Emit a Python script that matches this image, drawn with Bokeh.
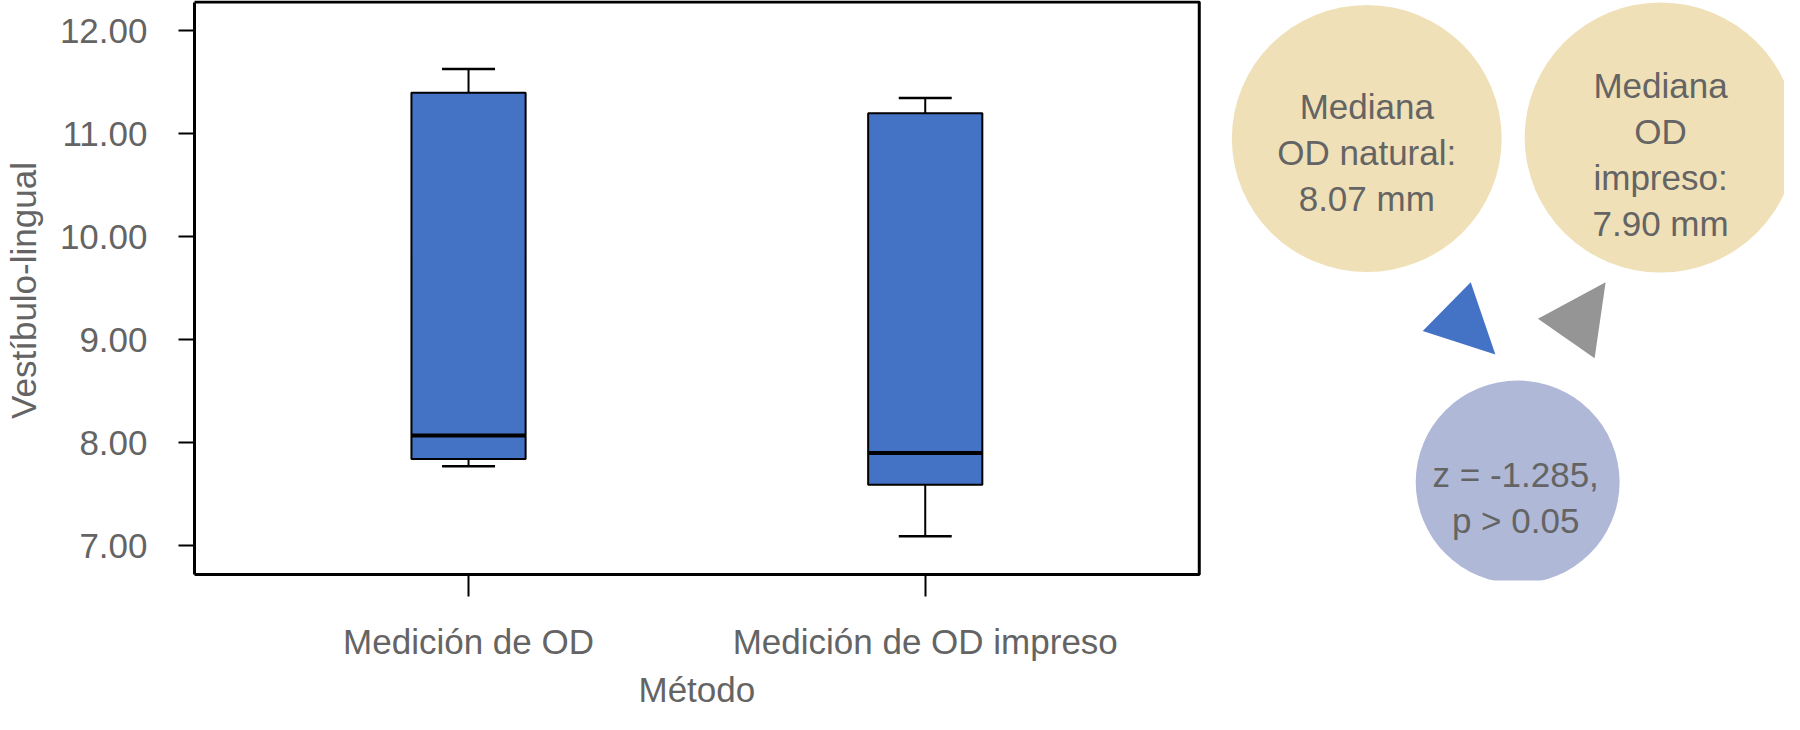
from bokeh.plotting import figure
from bokeh.models import Range1d, FixedTicker, ColumnDataSource, Title
from bokeh.embed import file_html
from bokeh.resources import INLINE
from bokeh.core.properties import value

# ---------------- data ----------------
categories = ["Medición de OD", "Medición de OD impreso"]
whisker_low = [7.77, 7.09]
q1 = [7.84, 7.59]
median = [8.07, 7.90]
q3 = [11.40, 11.20]
whisker_high = [11.63, 11.35]
y_ticks = [7, 8, 9, 10, 11, 12]
y_tick_labels = ["7.00", "8.00", "9.00", "10.00", "11.00", "12.00"]
x_axis_title = "Método"
y_axis_title = "Vestíbulo-lingual"
note_natural = ["Mediana", "OD natural:", "8.07 mm"]
note_impreso = ["Mediana", "OD", "impreso:", "7.90 mm"]
note_test = ["z = -1.285,", "p > 0.05"]

# ---------------- styles ----------------
FONT = "Liberation Sans"
TXT = "#646464"
BOX_FILL = "#4472C4"
TAN = "#f0e0b7"
LAV = "#b0b8d8"
GREY_TRI = "#959595"
FS = "35px"

# plot-panel extent (the boxed area) in data units
PANEL_X = (0.4, 2.6)
PANEL_Y = (6.7182, 12.2818)

# ---------------- figure ----------------
xs = [i + 1 for i in range(len(categories))]
BOX_W = 0.25
CAP_W = 0.116

src = ColumnDataSource(dict(
    x=xs, lo=whisker_low, q1=q1, med=median, q3=q3, hi=whisker_high,
    capl=[x - CAP_W / 2 for x in xs], capr=[x + CAP_W / 2 for x in xs],
    bl=[x - BOX_W / 2 for x in xs], br=[x + BOX_W / 2 for x in xs],
))

p = figure(width=1784, height=714,
           x_range=Range1d(0.4, 3.8814), y_range=Range1d(6.6599, 12.2964),
           output_backend="svg", toolbar_location=None,
           min_border_left=193, min_border_right=0,
           min_border_top=0, min_border_bottom=134)
p.outline_line_color = None
p.xgrid.visible = False
p.ygrid.visible = False
p.background_fill_color = "white"
p.border_fill_color = "white"

# secondary pixel-like ranges for the annotation bubbles
p.extra_x_ranges = {"px": Range1d(197, 1788)}
p.extra_y_ranges = {"px": Range1d(580, 0)}

# boxed panel
p.quad(left=[PANEL_X[0]], right=[PANEL_X[1]], bottom=[PANEL_Y[0]], top=[PANEL_Y[1]],
       fill_color=None, line_color="black", line_width=3)

p.segment("x", "q3", "x", "hi", source=src, line_color="black", line_width=2)
p.segment("x", "lo", "x", "q1", source=src, line_color="black", line_width=2)
p.segment("capl", "hi", "capr", "hi", source=src, line_color="black", line_width=2.5)
p.segment("capl", "lo", "capr", "lo", source=src, line_color="black", line_width=2.5)
p.vbar(x="x", width=BOX_W, bottom="q1", top="q3", source=src,
       fill_color=BOX_FILL, line_color="black", line_width=2)
p.segment("bl", "med", "br", "med", source=src, line_color="black", line_width=4)

# axes
p.xaxis.ticker = FixedTicker(ticks=xs)
p.xaxis.major_label_overrides = {x: c for x, c in zip(xs, categories)}
p.yaxis.ticker = FixedTicker(ticks=y_ticks)
p.yaxis.major_label_overrides = {t: s for t, s in zip(y_ticks, y_tick_labels)}
p.yaxis.axis_label = y_axis_title

for ax in (p.xaxis[0], p.yaxis[0]):
    ax.minor_tick_line_color = None
    ax.major_tick_line_color = "black"
    ax.major_tick_line_width = 2
    ax.major_label_text_font = FONT
    ax.major_label_text_font_size = FS
    ax.major_label_text_color = TXT
    ax.axis_label_text_font = FONT
    ax.axis_label_text_font_size = FS
    ax.axis_label_text_font_style = "normal"
    ax.axis_label_text_color = TXT

p.yaxis.bounds = PANEL_Y
p.yaxis.axis_line_color = "black"
p.yaxis.axis_line_width = 3
p.yaxis.major_tick_in = 0
p.yaxis.major_tick_out = 16
p.yaxis.major_label_standoff = 31
p.yaxis.axis_label_standoff = 14

p.xaxis.bounds = PANEL_X
p.xaxis.axis_line_color = None
p.xaxis.major_tick_in = 6
p.xaxis.major_tick_out = 16
p.xaxis.major_label_standoff = 25

# x-axis title, placed under the centre of the boxed panel
p.add_layout(Title(text=x_axis_title, align="left", offset=444, standoff=9,
                   text_font=FONT, text_font_size=FS, text_font_style="normal",
                   text_color=TXT), "below")

# ---------------- annotation bubbles ----------------
bub_x = [1370, 1664, 1521]
bub_y = [138, 137, 481.5]
bub_w = [270, 272, 204]
bub_h = [267, 270, 203]
bub_col = [TAN, TAN, LAV]
p.ellipse(x=bub_x, y=bub_y, width=bub_w, height=bub_h,
          fill_color=bub_col, line_color=None,
          x_range_name="px", y_range_name="px")

tri_xs = [[1426, 1474, 1498.7], [1541.3, 1609, 1598]]
tri_ys = [[330.5, 281.7, 354], [318.2, 281.8, 357.7]]
p.patches(xs=tri_xs, ys=tri_ys, fill_color=[BOX_FILL, GREY_TRI], line_color=None,
          x_range_name="px", y_range_name="px")

LINE = 46
txt_x, txt_y, txt = [], [], []
for lines, cx, first in ((note_natural, 1370, 106), (note_impreso, 1664, 85), (note_test, 1519, 474)):
    for i, s in enumerate(lines):
        txt_x.append(cx)
        txt_y.append(first + i * LINE)
        txt.append(s)
p.text(x=txt_x, y=txt_y, text=txt, text_align="center", text_baseline="alphabetic",
       text_font=value(FONT), text_font_size=FS, text_color=TXT,
       x_range_name="px", y_range_name="px")

open("out.html", "w").write(file_html(p, INLINE))
